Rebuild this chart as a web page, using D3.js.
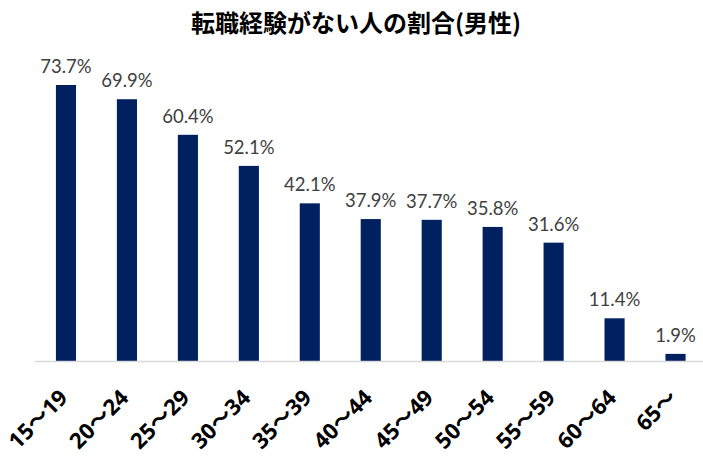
<!DOCTYPE html>
<html lang="ja">
<head>
<meta charset="UTF-8">
<title>転職経験がない人の割合(男性)</title>
<script src="https://cdn.jsdelivr.net/npm/d3@7"></script>
<style>
  body { margin: 0; background: #fff; }
</style>
</head>
<body>
<script>
var ageGroups = ["15～19", "20～24", "25～29", "30～34", "35～39", "40～44", "45～49", "50～54", "55～59", "60～64", "65～"];
var noChangeRate = [73.7, 69.9, 60.4, 52.1, 42.1, 37.9, 37.7, 35.8, 31.6, 11.4, 1.9];
var chartTitle = "転職経験がない人の割合(男性)";

var w = 703, h = 463;
var svg = d3.select("body").append("svg")
    .attr("width", w)
    .attr("height", h);

var x = d3.scaleBand()
    .domain(ageGroups)
    .range([35.5, 706])
    .paddingInner(0.67)
    .paddingOuter(0.335);

var y = d3.scaleLinear()
    .domain([0, 80])
    .range([361, 61.4]);

// title
svg.append("text")
    .attr("x", 356)
    .attr("y", 32)
    .attr("text-anchor", "middle")
    .style("font-family", "'Noto Sans CJK JP', sans-serif")
    .style("font-weight", "bold")
    .style("font-size", "24px")
    .style("fill", "#000")
    .text(chartTitle);

var data = ageGroups.map(function (g, i) { return { age: g, v: noChangeRate[i] }; });

svg.selectAll("rect.bar")
    .data(data)
    .enter().append("rect")
    .attr("class", "bar")
    .attr("x", function (d) { return x(d.age); })
    .attr("y", function (d) { return y(d.v); })
    .attr("width", x.bandwidth())
    .attr("height", function (d) { return y(0) - y(d.v); })
    .attr("fill", "#002060");

// value labels
svg.selectAll("text.val")
    .data(data)
    .enter().append("text")
    .attr("class", "val")
    .attr("x", function (d) { return x(d.age) + x.bandwidth() / 2; })
    .attr("y", function (d) { return y(d.v) - 12; })
    .attr("text-anchor", "middle")
    .style("font-family", "Lato, 'Noto Sans', sans-serif")
    .style("font-size", "18.5px")
    .style("fill", "#404040")
    .text(function (d) { return d.v.toFixed(1) + "%"; });

// x axis
var xAxis = svg.append("g")
    .attr("transform", "translate(0," + y(0) + ")")
    .call(d3.axisBottom(x).tickSize(0).tickPadding(0));

xAxis.select(".domain")
    .attr("d", "M35,0.5H703")
    .attr("stroke", "#d9d9d9")
    .attr("stroke-width", 1.5);

xAxis.selectAll(".tick text")
    .attr("text-anchor", "end")
    .attr("dy", null)
    .attr("y", null)
    .attr("transform", "translate(3,38) rotate(-45)")
    .style("font-family", "'Noto Sans', 'Noto Sans CJK JP', sans-serif")
    .style("font-weight", "bold")
    .style("font-size", "22px")
    .style("fill", "#000");
</script>
</body>
</html>
